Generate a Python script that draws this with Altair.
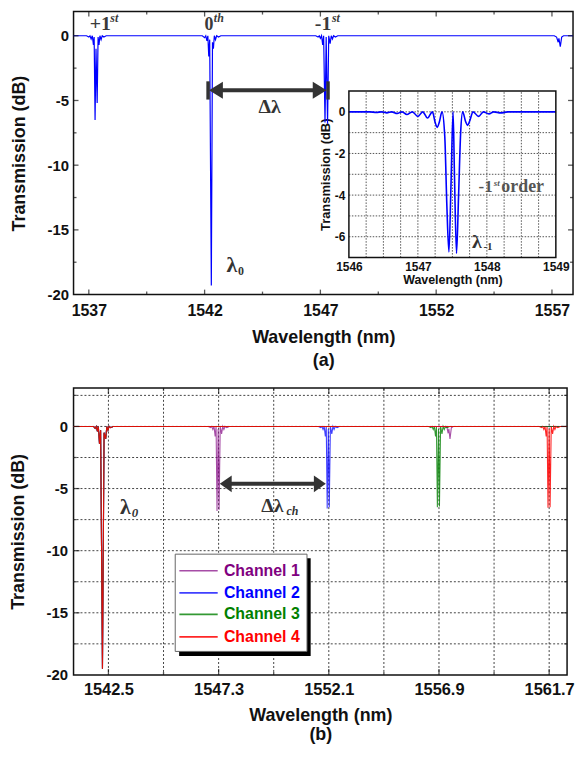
import altair as alt
import pandas as pd

SANS = "Liberation Sans"
SERIF = "Liberation Serif"

# ---------------- panel (a): transmission spectrum ----------------
A_WL = [1536.34,
        1536.9, 1537.0, 1537.05, 1537.1, 1537.15, 1537.2, 1537.23, 1537.27, 1537.31, 1537.36, 1537.4, 1537.44, 1537.48, 1537.53, 1537.58, 1537.65, 1537.75,
        1541.9, 1542.0, 1542.05, 1542.1, 1542.14, 1542.18, 1542.22, 1542.29, 1542.34, 1542.38, 1542.42, 1542.47, 1542.52, 1542.6, 1542.7,
        1546.8, 1546.9, 1546.95, 1547.0, 1547.05, 1547.1, 1547.14, 1547.2, 1547.25, 1547.31, 1547.36, 1547.42, 1547.47, 1547.52, 1547.57, 1547.65, 1547.75,
        1557.1, 1557.2, 1557.27, 1557.3, 1557.36, 1557.42, 1557.5,
        1557.91]
A_DB = [0,
        0, -0.1, 0, -0.25, 0, -0.7, -0.1, -6.5, -1.0, -5.2, -0.1, -0.7, 0, -0.3, 0, -0.1, 0,
        0, -0.15, 0, -0.4, 0, -1.6, -0.3, -19.3, -0.5, -1.0, 0, -0.3, 0, -0.1, 0,
        0, -0.1, 0, -0.2, 0, -0.7, 0, -6.7, -0.1, -6.8, 0, -0.6, 0, -0.25, 0, -0.1, 0,
        0, -0.1, -0.5, -0.2, -0.85, -0.1, 0,
        0]

# inset: -1st order
I_WL = [1546.0, 1546.3, 1546.4, 1546.47, 1546.55, 1546.62, 1546.7, 1546.77, 1546.84, 1546.92,
        1547.0, 1547.07, 1547.14, 1547.21, 1547.25, 1547.28, 1547.31, 1547.35, 1547.39, 1547.42,
        1547.45, 1547.48, 1547.51, 1547.53, 1547.56, 1547.59, 1547.62, 1547.65, 1547.69, 1547.72,
        1547.75, 1547.8, 1547.88, 1547.95, 1548.03, 1548.1, 1548.2, 1548.3, 1549.0]
I_DB = [0, 0, -0.03, 0, -0.05, 0, -0.08, 0, -0.13, 0,
        -0.22, 0, -0.3, 0, -0.5, -0.75, -0.5, 0, -1.2, -4.5,
        -6.73, -3.5, 0, -3.0, -6.8, -4.0, -1.0, 0, -0.45, -0.65,
        -0.45, 0, -0.22, 0, -0.1, 0, -0.05, 0, 0]

# ---------------- panel (b): four channels ----------------
ORDER0_WL = [1540.98, 1541.85, 1541.92, 1541.97, 1542.02, 1542.06, 1542.11, 1542.16, 1542.24, 1542.31, 1542.38, 1542.43, 1542.48, 1542.53, 1542.6, 1542.7]
ORDER0_DB = [0, 0, -0.15, 0, -0.4, 0, -1.4, -0.3, -19.5, -0.5, -1.0, 0, -0.3, 0, -0.1, 0]

CH1_WL = [1546.85, 1546.95, 1547.0, 1547.05, 1547.1, 1547.15, 1547.19, 1547.23, 1547.28, 1547.32, 1547.37, 1547.43, 1547.48, 1547.53, 1547.58, 1547.66, 1547.76,
          1557.15, 1557.25, 1557.3, 1557.33, 1557.38, 1557.44, 1557.52, 1562.48]
CH1_DB = [0, -0.1, 0, -0.25, 0, -0.8, 0, -6.8, -0.2, -6.7, 0, -0.6, 0, -0.25, 0, -0.1, 0,
          0, -0.1, -0.55, -0.2, -1.0, -0.1, 0, 0]
CH2_WL = [1551.65, 1551.75, 1551.8, 1551.85, 1551.9, 1551.95, 1551.99, 1552.03, 1552.08, 1552.12, 1552.17, 1552.23, 1552.28, 1552.33, 1552.38, 1552.46, 1552.56, 1562.48]
CH2_DB = [0, -0.1, 0, -0.25, 0, -0.8, 0, -6.6, -0.2, -6.5, 0, -0.6, 0, -0.25, 0, -0.1, 0, 0]
CH3_WL = [1556.45, 1556.55, 1556.6, 1556.65, 1556.7, 1556.75, 1556.79, 1556.83, 1556.88, 1556.92, 1556.97, 1557.03, 1557.08, 1557.13, 1557.18, 1557.26, 1557.36, 1562.48]
CH3_DB = [0, -0.1, 0, -0.25, 0, -0.8, 0, -6.5, -0.2, -6.45, 0, -0.6, 0, -0.25, 0, -0.1, 0, 0]
CH4_WL = [1561.27, 1561.37, 1561.42, 1561.47, 1561.52, 1561.57, 1561.61, 1561.65, 1561.7, 1561.74, 1561.79, 1561.85, 1561.9, 1561.95, 1562.0, 1562.08, 1562.18, 1562.48]
CH4_DB = [0, -0.1, 0, -0.25, 0, -0.8, 0, -6.55, -0.2, -6.5, 0, -0.6, 0, -0.25, 0, -0.1, 0, 0]

CHANNELS = ["Channel 1", "Channel 2", "Channel 3", "Channel 4"]
CH_COLORS = ["#800080", "#0000ff", "#008000", "#ff0000"]

# axes / ticks
A_XDOM = [1536.34, 1557.91]
A_YDOM = [-20, 1.87]
A_X_MAJOR = [1537, 1542, 1547, 1552, 1557]
A_X_MINOR = [1539.5, 1544.5, 1549.5, 1554.5]
A_Y_LABELS = [0, -5, -10, -15, -20]
A_Y_MAJOR = [0, -5, -10, -15]
A_Y_MINOR = [-2.5, -7.5, -12.5, -17.5]

I_XDOM = [1546, 1549]
I_YDOM = [-7, 1]
I_X_LABELS = [1546, 1547, 1548, 1549]
I_Y_LABELS = [0, -2, -4, -6]
I_X_GRID = [1546.25, 1546.5, 1546.75, 1547.0, 1547.25, 1547.5, 1547.75, 1548.0, 1548.25, 1548.5, 1548.75]
I_Y_GRID = [0, -1, -2, -3, -4, -5, -6]

B_XDOM = [1540.98, 1562.48]
B_YDOM = [-20, 3.1]
B_X_MAJOR = [1542.5, 1547.3, 1552.1, 1556.9, 1561.7]
B_X_MINOR = [1544.9, 1549.7, 1554.5, 1559.3]
B_X_GRID = [1542.5, 1544.9, 1547.3, 1549.7, 1552.1, 1554.5, 1556.9, 1559.3, 1561.7]
B_Y_LABELS = [0, -5, -10, -15, -20]
B_Y_MAJOR = [0, -5, -10, -15]
B_Y_MINOR = [2.5, -2.5, -7.5, -12.5, -17.5]
B_Y_GRID = [2.5, 0, -2.5, -5, -7.5, -10, -12.5, -15, -17.5]

WA = 503
WB = 497
HA = 285
HB = 289
LBL = "toString(datum.value)"


def xy(xs, ys):
    return pd.DataFrame({"wl": xs, "db": ys})


def txt(x, y, s, size, color="#333", font=SERIF, style="normal", align="left"):
    d = pd.DataFrame({"x": [x], "y": [y], "t": [s]})
    return alt.Chart(d).mark_text(font=font, fontSize=size, fontWeight="bold", fontStyle=style,
                                  color=color, align=align, baseline="alphabetic").encode(
        x="x:Q", y="y:Q", text="t:N")


def tick_layers(xmaj, xmin, ymaj, ymin, xdom, ydom, big=5, small=3):
    out = []
    for vals, sz in ((xmaj, big), (xmin, small)):
        d = pd.DataFrame({"v": vals})
        out.append(alt.Chart(d).mark_tick(orient="vertical", size=sz, thickness=1.3, color="#111",
                                          yOffset=-sz / 2).encode(x="v:Q", y=alt.YDatum(ydom[0])))
        out.append(alt.Chart(d).mark_tick(orient="vertical", size=sz, thickness=1.3, color="#111",
                                          yOffset=sz / 2).encode(x="v:Q", y=alt.YDatum(ydom[1])))
    for vals, sz in ((ymaj, big), (ymin, small)):
        d = pd.DataFrame({"v": vals})
        out.append(alt.Chart(d).mark_tick(orient="horizontal", size=sz, thickness=1.3, color="#111",
                                          xOffset=sz / 2).encode(y="v:Q", x=alt.XDatum(xdom[0])))
        out.append(alt.Chart(d).mark_tick(orient="horizontal", size=sz, thickness=1.3, color="#111",
                                          xOffset=-sz / 2).encode(y="v:Q", x=alt.XDatum(xdom[1])))
    return out


HEAD_L = "M-0.82,0L0.82,-1L0.82,1Z"
HEAD_R = "M0.82,0L-0.82,-1L-0.82,1Z"

# ================= panel (a) =================
xa = alt.Scale(domain=A_XDOM, nice=False, zero=False)
ya = alt.Scale(domain=A_YDOM, nice=False, zero=False)

line_a = alt.Chart(xy(A_WL, A_DB)).mark_line(color="#0000ff", strokeWidth=1.2).encode(
    x=alt.X("wl:Q", scale=xa, axis=alt.Axis(orient="bottom", values=A_X_MAJOR, labelExpr=LBL,
                                             labelFontSize=16, labelPadding=8,
                                             title=["Wavelength (nm)", "(a)"], titleFontSize=18,
                                             titlePadding=10, titleLineHeight=23)),
    y=alt.Y("db:Q", scale=ya, axis=alt.Axis(orient="left", values=A_Y_LABELS, labelExpr=LBL,
                                             labelFontSize=15, labelPadding=5,
                                             title="Transmission (dB)", titleFontSize=18, titlePadding=19)),
)

arrow_a_y = -4.21
shaft_a = alt.Chart(pd.DataFrame({"x": [1542.49], "x2": [1546.97], "y": [arrow_a_y]})).mark_rule(
    color="#333", strokeWidth=4).encode(x="x:Q", x2="x2:Q", y="y:Q")
heads_a = [
    alt.Chart(pd.DataFrame({"x": [1542.49], "y": [arrow_a_y]})).mark_point(
        shape=HEAD_L, size=289, filled=True, color="#333", opacity=1).encode(x="x:Q", y="y:Q"),
    alt.Chart(pd.DataFrame({"x": [1546.97], "y": [arrow_a_y]})).mark_point(
        shape=HEAD_R, size=289, filled=True, color="#333", opacity=1).encode(x="x:Q", y="y:Q"),
]
bars_a = alt.Chart(pd.DataFrame({"x": [1542.15, 1547.33], "y": [-3.52, -3.52], "y2": [-4.93, -4.93]})).mark_rule(
    color="#333", strokeWidth=3.5).encode(x="x:Q", y="y:Q", y2="y2:Q")

texts_a = [
    txt(1537.04, 0.43, "+1", 20, color="#3a3a3a"),
    txt(1537.93, 1.08, "st", 12, color="#3a3a3a", style="italic"),
    txt(1542.0, 0.43, "0", 18, color="#3a3a3a"),
    txt(1542.4, 1.08, "th", 12, color="#3a3a3a", style="italic"),
    txt(1546.76, 0.43, "-1", 20, color="#3a3a3a"),
    txt(1547.5, 1.08, "st", 12, color="#3a3a3a", style="italic"),
    txt(1544.33, -5.96, "Δλ", 20, color="#333"),
    txt(1542.95, -18.24, "λ", 22, color="#333"),
    txt(1543.44, -18.49, "0", 12, color="#333"),
]

main_a = alt.layer(line_a, *tick_layers(A_X_MAJOR, A_X_MINOR, A_Y_MAJOR, A_Y_MINOR, A_XDOM, A_YDOM),
                   shaft_a, *heads_a, bars_a, *texts_a)

# ---- inset ----
xi = alt.Scale(domain=I_XDOM, range=[277.3, 485.7], nice=False, zero=False)
yi = alt.Scale(domain=I_YDOM, range=[247.7, 80.0], nice=False, zero=False)
one = pd.DataFrame({"a": [0]})

inset_bg = alt.Chart(one).mark_rect(fill="white").encode(
    x=alt.XDatum(I_XDOM[0], scale=xi, axis=alt.Axis(orient="bottom", offset=-(HA - 247.7), values=I_X_LABELS,
                                                     labelExpr=LBL, labelFontSize=12, labelPadding=4,
                                                     title="Wavelength (nm)", titleFontSize=12.5, titlePadding=1)),
    x2=alt.X2Datum(I_XDOM[1]),
    y=alt.YDatum(I_YDOM[0], scale=yi, axis=alt.Axis(orient="left", offset=-277.3, values=I_Y_LABELS,
                                                     labelExpr=LBL, labelFontSize=12, labelPadding=4,
                                                     title="Transmission (dB)", titleFontSize=13, titlePadding=2)),
    y2=alt.Y2Datum(I_YDOM[1]))
inset_gx = alt.Chart(pd.DataFrame({"v": I_X_GRID})).mark_rule(color="#555", strokeDash=[1.5, 1.5], strokeWidth=1).encode(
    x="v:Q", y=alt.YDatum(I_YDOM[0]), y2=alt.Y2Datum(I_YDOM[1]))
inset_gy = alt.Chart(pd.DataFrame({"v": I_Y_GRID})).mark_rule(color="#555", strokeDash=[1.5, 1.5], strokeWidth=1).encode(
    y="v:Q", x=alt.XDatum(I_XDOM[0]), x2=alt.X2Datum(I_XDOM[1]))
inset_line = alt.Chart(xy(I_WL, I_DB)).mark_line(color="#0000ff", strokeWidth=1.6, interpolate="monotone").encode(
    x="wl:Q", y="db:Q")
inset_border = alt.Chart(one).mark_rect(fillOpacity=0, stroke="#111", strokeWidth=1.5).encode(
    x=alt.XDatum(I_XDOM[0]), x2=alt.X2Datum(I_XDOM[1]),
    y=alt.YDatum(I_YDOM[0]), y2=alt.Y2Datum(I_YDOM[1]))
inset_texts = [
    txt(1547.88, -3.84, "-1", 17, color="#555"),
    txt(1548.10, -3.55, "st", 9, color="#555", style="italic"),
    txt(1548.21, -3.84, "order", 18, color="#555"),
    txt(1547.785, -6.52, "λ", 20, color="#333"),
    txt(1547.95, -6.63, "-1", 11, color="#333"),
]
inset = alt.layer(inset_bg, inset_gx, inset_gy, inset_line, inset_border, *inset_texts)

panel_a = alt.layer(main_a, inset).resolve_scale(x="independent", y="independent").properties(width=WA, height=HA)

# ================= panel (b) =================
xb = alt.Scale(domain=B_XDOM, nice=False, zero=False)
yb = alt.Scale(domain=B_YDOM, nice=False, zero=False)

grid_bx = alt.Chart(pd.DataFrame({"v": B_X_GRID})).mark_rule(color="#444", strokeDash=[2, 2], strokeWidth=1).encode(
    x=alt.X("v:Q", scale=xb, axis=alt.Axis(orient="bottom", values=B_X_MAJOR, labelExpr=LBL,
                                            labelFontSize=16.5, labelPadding=7,
                                            title=["Wavelength (nm)", "(b)"], titleFontSize=18,
                                            titlePadding=8, titleLineHeight=20)))
grid_by = alt.Chart(pd.DataFrame({"v": B_Y_GRID})).mark_rule(color="#444", strokeDash=[2, 2], strokeWidth=1).encode(
    y=alt.Y("v:Q", scale=yb, axis=alt.Axis(orient="left", values=B_Y_LABELS, labelExpr=LBL,
                                            labelFontSize=15, labelPadding=6,
                                            title="Transmission (dB)", titleFontSize=18, titlePadding=19)))

ch_data = [
    (ORDER0_WL + CH1_WL, ORDER0_DB + CH1_DB),
    (ORDER0_WL + CH2_WL, ORDER0_DB + CH2_DB),
    (ORDER0_WL + CH3_WL, ORDER0_DB + CH3_DB),
    (ORDER0_WL + CH4_WL, ORDER0_DB + CH4_DB),
]
ch_opacity = [0.7, 0.75, 0.8, 0.85]
ch_lines = [
    alt.Chart(xy(wl, db)).mark_line(color=CH_COLORS[i], strokeWidth=1.1, opacity=ch_opacity[i]).encode(
        x="wl:Q", y="db:Q")
    for i, (wl, db) in enumerate(ch_data)
]

arrow_b_y = -4.62
shaft_b = alt.Chart(pd.DataFrame({"x": [1547.61], "x2": [1551.71], "y": [arrow_b_y]})).mark_rule(
    color="#333", strokeWidth=4).encode(x="x:Q", x2="x2:Q", y="y:Q")
heads_b = [
    alt.Chart(pd.DataFrame({"x": [1547.61], "y": [arrow_b_y]})).mark_point(
        shape="M-0.72,0L0.72,-1L0.72,1Z", size=280, filled=True, color="#333", opacity=1).encode(x="x:Q", y="y:Q"),
    alt.Chart(pd.DataFrame({"x": [1551.71], "y": [arrow_b_y]})).mark_point(
        shape="M0.72,0L-0.72,-1L-0.72,1Z", size=280, filled=True, color="#333", opacity=1).encode(x="x:Q", y="y:Q"),
]
texts_b = [
    txt(1543.0, -7.02, "λ", 22, color="#333"),
    txt(1543.52, -7.25, "0", 13, color="#333", style="italic"),
    txt(1549.16, -6.88, "Δλ", 20, color="#333"),
    txt(1550.26, -7.1, "ch", 12, color="#333", style="italic"),
]

# legend (drawn in data space of panel b)
LEG_ROWS = [-11.62, -13.4, -15.13, -16.94]
leg_shadow = alt.Chart(pd.DataFrame({"x": [1545.58], "x2": [1551.31], "y": [-10.6], "y2": [-18.47]})).mark_rect(
    fill="black").encode(x="x:Q", x2="x2:Q", y="y:Q", y2="y2:Q")
leg_box = alt.Chart(pd.DataFrame({"x": [1545.41], "x2": [1551.15], "y": [-10.28], "y2": [-18.11]})).mark_rect(
    fill="white", stroke="#666", strokeWidth=1).encode(x="x:Q", x2="x2:Q", y="y:Q", y2="y2:Q")
leg_df = pd.DataFrame({"name": CHANNELS, "color": CH_COLORS, "y": LEG_ROWS,
                       "x": [1545.59] * 4, "x2": [1547.26] * 4, "tx": [1547.53] * 4, "op": ch_opacity})
leg_lines = alt.Chart(leg_df).mark_rule(strokeWidth=1.6).encode(
    x="x:Q", x2="x2:Q", y="y:Q",
    color=alt.Color("color:N", scale=None), opacity=alt.Opacity("op:Q", scale=None))
leg_text = alt.Chart(leg_df).mark_text(font=SANS, fontSize=16, fontWeight="bold", align="left", baseline="middle").encode(
    x="tx:Q", y="y:Q", text="name:N", color=alt.Color("color:N", scale=None))

panel_b = alt.layer(grid_bx, grid_by, *ch_lines,
                    *tick_layers(B_X_MAJOR, B_X_MINOR, B_Y_MAJOR, B_Y_MINOR, B_XDOM, B_YDOM, big=6, small=3),
                    shaft_b, *heads_b, *texts_b, leg_shadow, leg_box, leg_lines, leg_text).properties(width=WB, height=HB)

chart = alt.vconcat(panel_a, panel_b, spacing=16).properties(
    padding={"left": 0, "top": 0, "right": 0, "bottom": 0}
).configure_view(stroke="#111", strokeWidth=1.5).configure_axis(
    labelFont=SANS, titleFont=SANS, labelFontWeight="bold", titleFontWeight="bold",
    labelColor="#111", titleColor="#111", labelFlush=False, grid=False, domain=False, ticks=False,
    labelOverlap=False
)

chart.save("out.html", embed_options={"renderer": "svg", "actions": False})
